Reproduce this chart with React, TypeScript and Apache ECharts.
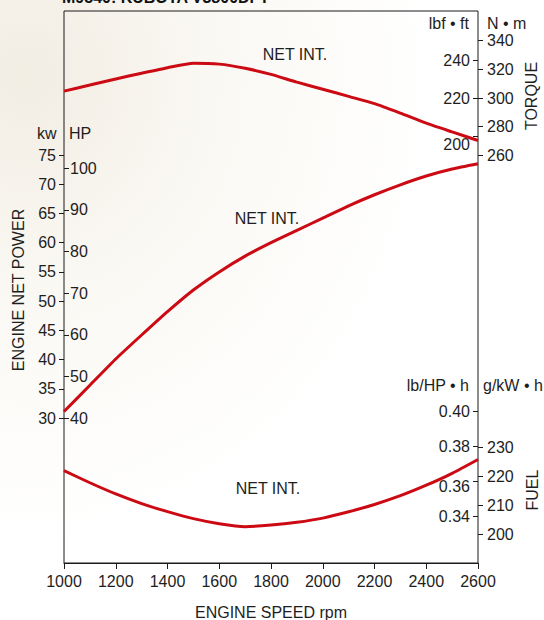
import React, { useEffect, useRef } from 'react';
import * as echarts from 'echarts';

// Engine speed samples (rpm)
const rpm = [1000, 1100, 1200, 1300, 1400, 1500, 1600, 1700, 1800, 1900, 2000, 2100, 2200, 2300, 2400, 2500, 2600];
// Torque (lbf·ft)
const torqueLbfFt = [224.0, 227.2, 230.4, 233.4, 236.3, 238.7, 238.2, 236.0, 232.8, 228.7, 225.0, 221.2, 217.4, 212.4, 207.1, 202.5, 198.0];
// Net power (kW)
const powerKw = [31.1, 35.6, 40.1, 44.2, 48.2, 51.9, 55.0, 57.7, 60.0, 62.1, 64.2, 66.3, 68.2, 69.9, 71.4, 72.6, 73.5];
// Fuel consumption (lb/HP·h)
const fuelLbHph = [0.3663, 0.3594, 0.353, 0.3475, 0.3429, 0.3389, 0.336, 0.3343, 0.3352, 0.3368, 0.3392, 0.3428, 0.347, 0.352, 0.358, 0.3648, 0.3727];

const title = 'M9540: KUBOTA V3800DI-T';
const curveLabel = 'NET INT.';

const FONT = '"Liberation Sans", Arial, Helvetica, sans-serif';
const TXT = '#1e1e1e';
const RED = '#cc0a14';

export default function App() {
  const ref = useRef<HTMLDivElement>(null);
  useEffect(() => {
    if (!ref.current) return;
    const chart = echarts.init(ref.current, null, { renderer: 'svg' });
    const L = 64;
    const R = 544 - 478;
    const H = 620;
    const g = (top: number, bottomY: number) => ({ left: L, right: R, top, bottom: H - bottomY, containLabel: false });
    const grids = [
      { ...g(11, 563), show: true, borderColor: '#1a1a1a', borderWidth: 1, backgroundColor: 'transparent' },
      g(155, 418), // kW
      g(168.3, 418), // HP
      g(60.7, 136.7), // lbf ft
      g(40.6, 155.4), // N m
      g(411.7, 516.7), // lb/HP h
      g(447.3, 534), // g/kW h
    ];
    const hiddenX = (i: number) => ({ type: 'value', gridIndex: i, min: 1000, max: 2600, interval: 200, show: false });
    const lbl = { fontSize: 16, color: TXT, fontFamily: FONT };
    const tick = (inside: boolean) => ({ show: true, inside, length: 5, lineStyle: { color: '#1a1a1a', width: 1 } });
    const mk = (a: any[]) => rpm.map((r, i) => [r, a[i]]);
    const series = [
      { type: 'line', xAxisIndex: 3, yAxisIndex: 3, data: mk(torqueLbfFt) },
      { type: 'line', xAxisIndex: 1, yAxisIndex: 1, data: mk(powerKw) },
      { type: 'line', xAxisIndex: 5, yAxisIndex: 5, data: mk(fuelLbHph) },
    ].map((s) => ({ ...s, smooth: 0.2, symbol: 'none', clip: false, lineStyle: { color: RED, width: 3 } }));

    const text = (t: string, x: number, y: number, align = 'center', extra: any = {}) => ({
      type: 'text',
      x,
      y,
      ...extra,
      style: { text: t, x: 0, y: 0, fill: TXT, font: `16px ${FONT}`, align, verticalAlign: 'middle' },
    });

    chart.setOption({
      animation: false,
      backgroundColor: new echarts.graphic.RadialGradient(0.05, 0.12, 0.75, [
        { offset: 0, color: '#f2ede3' },
        { offset: 0.45, color: '#faf8f3' },
        { offset: 1, color: '#ffffff' },
      ]),
      grid: grids,
      xAxis: [
        {
          type: 'value',
          gridIndex: 0,
          min: 1000,
          max: 2600,
          interval: 200,
          position: 'bottom',
          axisLine: { show: true, lineStyle: { color: '#1a1a1a', width: 1 } },
          axisTick: { show: true, length: 6, lineStyle: { color: '#1a1a1a' } },
          axisLabel: { ...lbl, margin: 10, formatter: (v: number) => String(v) },
          splitLine: { show: false },
        },
        hiddenX(1), hiddenX(2), hiddenX(3), hiddenX(4), hiddenX(5), hiddenX(6),
      ],
      yAxis: [
        { type: 'value', gridIndex: 0, show: false, min: 0, max: 1 },
        {
          type: 'value', gridIndex: 1, min: 30, max: 75, interval: 5, position: 'left',
          axisLine: { show: false }, axisTick: tick(false), splitLine: { show: false },
          axisLabel: { ...lbl, margin: 8 },
        },
        {
          type: 'value', gridIndex: 2, min: 40, max: 100, interval: 10, position: 'left',
          axisLine: { show: false }, axisTick: tick(true), splitLine: { show: false },
          axisLabel: { ...lbl, inside: true, margin: 6 },
        },
        {
          type: 'value', gridIndex: 3, min: 200, max: 240, interval: 20, position: 'right',
          axisLine: { show: false }, axisTick: tick(true), splitLine: { show: false },
          axisLabel: {
            ...lbl, inside: true, margin: 8,
            formatter: (v: number) => (v === 200 ? '{d|200}' : String(v)),
            rich: { d: { ...lbl, padding: [16, 0, 0, 0] } },
          },
        },
        {
          type: 'value', gridIndex: 4, min: 260, max: 340, interval: 20, position: 'right',
          axisLine: { show: false }, axisTick: tick(false), splitLine: { show: false },
          axisLabel: { ...lbl, margin: 9 },
        },
        {
          type: 'value', gridIndex: 5, min: 0.34, max: 0.4, interval: 0.02, position: 'right',
          axisLine: { show: false }, axisTick: tick(true), splitLine: { show: false },
          axisLabel: {
            ...lbl, inside: true, margin: 8,
            formatter: (v: number) => (Math.abs(v - 0.36) < 1e-6 ? '{d|0.36}' : v.toFixed(2)),
            rich: { d: { ...lbl, padding: [10, 0, 0, 0] } },
          },
        },
        {
          type: 'value', gridIndex: 6, min: 200, max: 230, interval: 10, position: 'right',
          axisLine: { show: false }, axisTick: tick(false), splitLine: { show: false },
          axisLabel: { ...lbl, margin: 9 },
        },
      ],
      series,
      graphic: [
        {
          type: 'text', x: 62, y: -3,
          style: { text: title, x: 0, y: 0, fill: '#111', font: `bold 16px ${FONT}`, align: 'left', verticalAlign: 'middle' },
        },
        text('kw', 37, 133, 'left'),
        text('HP', 69, 133, 'left'),
        text('lbf • ft', 469, 23, 'right'),
        text('N • m', 487, 23, 'left'),
        text('lb/HP • h', 469, 385, 'right'),
        text('g/kW • h', 483, 385, 'left'),
        text(curveLabel, 295, 54),
        text(curveLabel, 267, 218),
        text(curveLabel, 268, 488),
        text('ENGINE SPEED rpm', 271, 612),
        text('ENGINE NET POWER', 18, 290, 'center', { rotation: Math.PI / 2 }),
        text('TORQUE', 531, 96, 'center', { rotation: Math.PI / 2 }),
        text('FUEL', 532, 490, 'center', { rotation: Math.PI / 2 }),
      ],
    });
    return () => chart.dispose();
  }, []);
  return <div ref={ref} style={{ position: 'absolute', left: 0, top: 0, width: 544, height: 620 }} />;
}
